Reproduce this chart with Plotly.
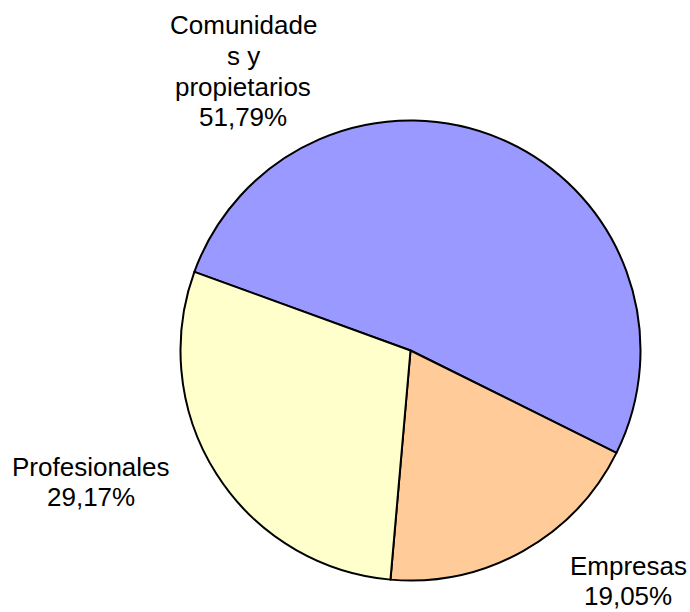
import plotly.graph_objects as go

# Data
categories = ["Comunidades y propietarios", "Empresas", "Profesionales"]
display_labels = [["Comunidade", "s y", "propietarios"], ["Empresas"], ["Profesionales"]]
values = [51.79, 19.05, 29.17]
colors = ["#9999FF", "#FFCC99", "#FFFFCC"]

# Label placement (pixel anchor: center x, first baseline y)
W, H = 690, 612
label_pos = [(243, 36), (628, 576), (91, 477)]
line_step = 30.6
font_size = 26

fig = go.Figure()
fig.add_trace(go.Pie(
    labels=categories,
    values=values,
    sort=False,
    direction="clockwise",
    rotation=-70,
    marker=dict(colors=colors, line=dict(color="black", width=2)),
    textinfo="none",
    showlegend=False,
    domain=dict(x=[180.5 / W, 640.5 / W], y=[(H - 580.5) / H, (H - 120.5) / H]),
))

annotations = []
for lines, v, (cx, by) in zip(display_labels, values, label_pos):
    pct = f"{v:.2f}".replace(".", ",") + "%"
    all_lines = lines + [pct]
    for i, t in enumerate(all_lines):
        y_px = by + i * line_step - 10.5
        annotations.append(dict(
            text=t, x=cx / W, y=1 - y_px / H, xref="paper", yref="paper",
            xanchor="center", yanchor="middle", showarrow=False, borderpad=0,
            font=dict(family="Liberation Sans, Arial, sans-serif", size=font_size, color="black"),
        ))

fig.update_layout(
    width=W, height=H,
    margin=dict(l=0, r=0, t=0, b=0),
    paper_bgcolor="white", plot_bgcolor="white",
    annotations=annotations,
)

fig.write_html(
    "out.html",
    config={"displayModeBar": False},
    post_script="document.body.style.margin='0';document.body.style.overflow='hidden';",
)
